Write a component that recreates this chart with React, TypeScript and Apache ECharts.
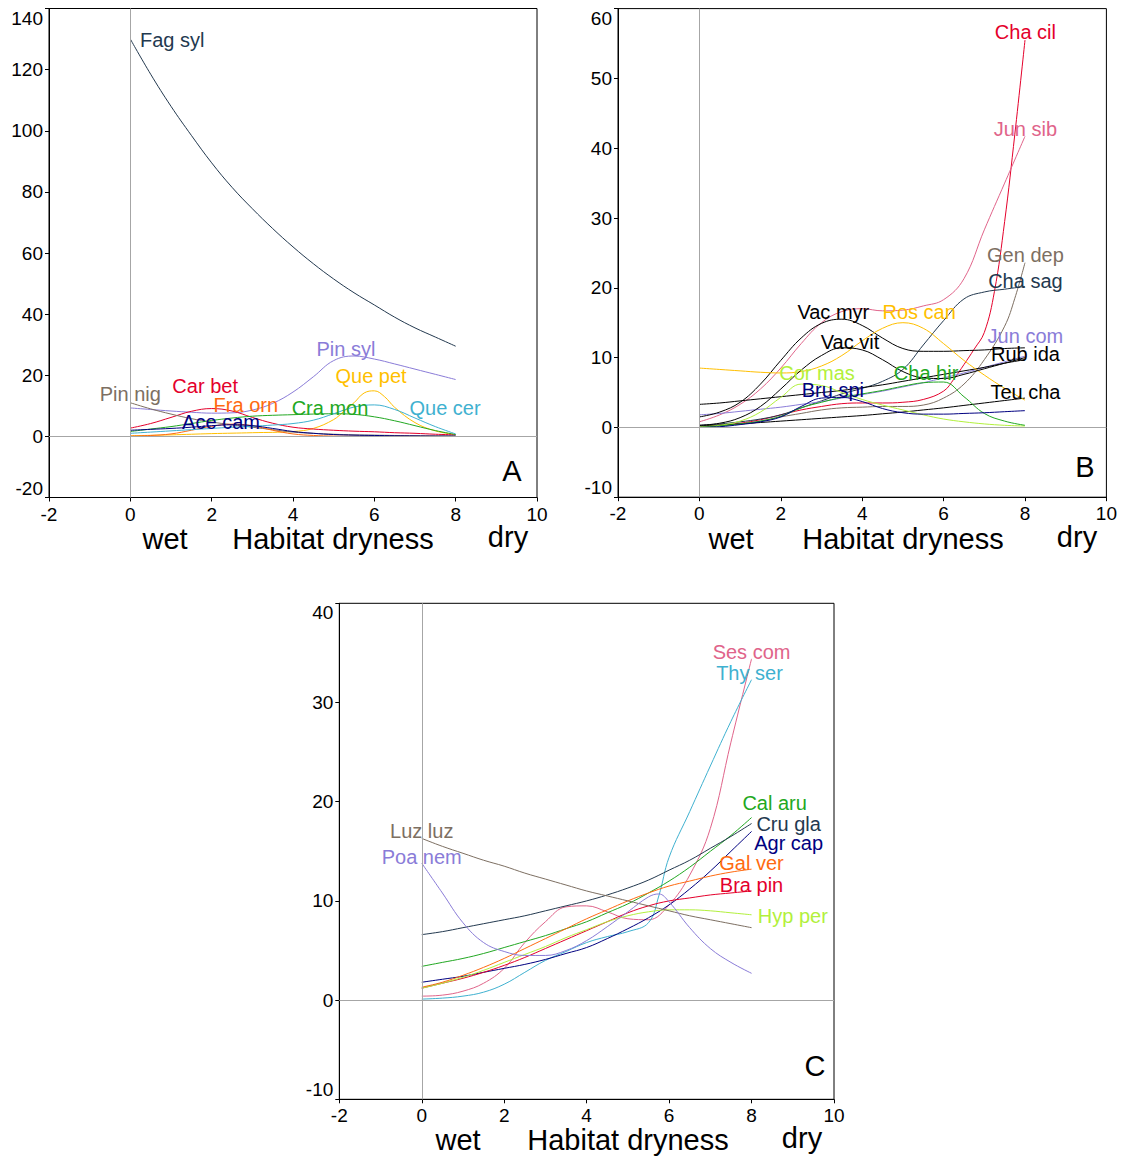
import React, { useEffect, useRef } from "react";
import * as echarts from "echarts";

const FONT = '"Liberation Sans", Arial, Helvetica, sans-serif';

// ---------- shared x grid ----------
const xs = [0, 0.5, 1, 1.5, 2, 2.5, 3, 3.5, 4, 4.5, 5, 5.5, 6, 6.5, 7, 7.5, 8];

// ---------- Panel A ----------
const fagSyl = [130, 118.5, 108, 98.5, 89.5, 81.5, 74.5, 68, 62, 56.5, 51.5, 47, 43, 39, 35.5, 32.5, 29.5];
const pinSyl = [9.3, 8.8, 8.3, 7.9, 7.6, 7.7, 8.6, 10.8, 14.5, 19.5, 24.8, 26.3, 25.3, 23.7, 22, 20.3, 18.6];
const quePetX = [0, 1, 2, 3, 4, 4.5, 5, 5.25, 5.5, 5.75, 6, 6.25, 6.5, 7, 7.5, 8];
const quePet = [0.2, 0.5, 0.9, 1.2, 1.6, 2.6, 5.5, 8.2, 11, 14.2, 14.9, 13, 9.5, 4.5, 1.8, 0.6];
const queCer = [1.0, 1.4, 1.8, 2.2, 2.6, 3.0, 3.3, 3.7, 4.2, 5.3, 7.4, 9.6, 10.3, 8.8, 6.0, 3.2, 0.8];
const craMon = [1.6, 2.4, 3.2, 4.2, 5.2, 6.0, 6.6, 6.9, 7.1, 7.3, 7.4, 7.2, 6.4, 5.1, 3.5, 1.9, 0.6];
const carBet = [2.7, 4.2, 6.2, 8.2, 9.1, 8.3, 6.2, 4.3, 3.0, 2.4, 2.0, 1.7, 1.5, 1.2, 1.0, 0.7, 0.5];
const fraOrn = [0.1, 0.3, 0.8, 2.0, 3.3, 4.0, 3.5, 2.0, 0.8, 0.3, 0.1, 0.05, 0.02, 0.01, 0, 0, 0];
const aceCam = [2.0, 2.3, 2.6, 3.0, 3.5, 3.8, 3.5, 2.6, 1.6, 1.0, 0.6, 0.4, 0.3, 0.2, 0.15, 0.1, 0.1];
const pinNig = [11.0, 9.0, 7.3, 5.8, 4.7, 3.8, 3.0, 2.2, 1.4, 1.0, 0.7, 0.5, 0.4, 0.3, 0.2, 0.15, 0.1];

// ---------- Panel B ----------
const chaCilX = [0, 0.5, 1, 1.5, 2, 2.5, 3, 3.5, 4, 4.5, 5, 5.5, 6, 6.25, 6.5, 6.75, 7, 7.25, 7.5, 7.75, 8];
const chaCil = [0.1, 0.3, 0.6, 1.1, 1.8, 2.5, 3.0, 3.4, 3.5, 3.5, 3.6, 4.0, 5.2, 6.9, 9.0, 11.2, 13.6, 19.5, 29.5, 42, 55.5];
const junSib = [0.8, 1.8, 3.3, 5.5, 8.5, 12.0, 15.0, 16.6, 17.0, 16.7, 16.8, 17.4, 18.3, 21.3, 28.3, 35, 41.7];
const genDepX = [0, 0.5, 1, 1.5, 2, 2.5, 3, 3.5, 4, 4.5, 5, 5.5, 6, 6.5, 7, 7.5, 7.75, 8];
const genDep = [0.1, 0.3, 0.5, 0.9, 1.5, 2.0, 2.5, 2.8, 2.9, 3.0, 3.0, 3.2, 4.2, 6.2, 9.7, 14.5, 18.5, 23.6];
const chaSag = [0.3, 0.5, 0.8, 1.2, 1.8, 2.8, 3.8, 4.8, 5.6, 6.6, 8.3, 11.8, 15.3, 18.4, 19.4, 19.8, 20.2];
const vacMyr = [1.5, 2.2, 3.6, 6.2, 9.6, 12.8, 14.9, 15.5, 14.6, 12.8, 11.3, 10.9, 10.9, 11.0, 11.1, 11.3, 11.4];
const vacVit = [0.3, 0.6, 1.4, 3.0, 5.5, 8.2, 10.3, 11.4, 11.1, 9.7, 8.0, 7.1, 7.0, 7.6, 8.4, 9.2, 10.0];
const rubIda = [3.3, 3.5, 3.8, 4.1, 4.4, 4.7, 5.0, 5.3, 5.7, 6.1, 6.6, 7.1, 7.6, 8.1, 8.6, 9.2, 9.7];
const teuCha = [0.2, 0.35, 0.5, 0.7, 0.9, 1.1, 1.3, 1.5, 1.7, 1.95, 2.2, 2.5, 2.8, 3.15, 3.5, 3.85, 4.2];
const rosCan = [8.5, 8.3, 8.1, 7.9, 7.8, 8.0, 8.8, 10.3, 12.4, 14.2, 15.0, 14.2, 12.0, 9.6, 7.5, 5.6, 3.9];
const corMas = [0.1, 0.3, 0.9, 2.2, 4.3, 6.2, 6.0, 5.0, 4.0, 3.2, 2.5, 1.8, 1.2, 0.8, 0.5, 0.3, 0.2];
const bruSpi = [0, 0.1, 0.4, 0.8, 1.5, 3.0, 4.2, 4.3, 3.7, 2.7, 2.1, 1.9, 1.9, 2.0, 2.1, 2.25, 2.4];
const chaHir = [0, 0.2, 0.5, 0.9, 1.6, 2.8, 3.6, 4.3, 4.8, 5.3, 5.9, 6.4, 6.5, 4.4, 2.0, 0.9, 0.3];
const junCom = [1.8, 2.0, 2.3, 2.6, 2.9, 3.3, 3.7, 4.2, 4.7, 5.2, 5.8, 6.4, 7.1, 7.8, 8.6, 9.4, 10.2];

// ---------- Panel C ----------
const luzLuz = [16.3, 15.5, 14.8, 14.1, 13.5, 12.8, 12.2, 11.6, 11.0, 10.5, 10.0, 9.5, 9.0, 8.5, 8.1, 7.7, 7.3];
const poaNemX = [0, 0.5, 1, 1.5, 2, 2.5, 3, 3.5, 4, 4.5, 5, 5.5, 5.75, 6, 6.5, 7, 7.5, 8];
const poaNem = [13.8, 10.8, 7.8, 5.8, 4.9, 4.5, 4.5, 5.0, 6.0, 7.4, 8.9, 10.4, 10.7, 9.9, 7.3, 5.2, 3.8, 2.7];
const cruGla = [6.6, 6.9, 7.3, 7.7, 8.1, 8.5, 9.0, 9.5, 10.0, 10.6, 11.3, 12.1, 13.1, 14.1, 15.3, 16.5, 17.8];
const calAru = [3.4, 3.8, 4.2, 4.7, 5.3, 5.9, 6.5, 7.2, 7.9, 8.8, 9.7, 10.8, 12.0, 13.4, 15.0, 16.6, 18.4];
const agrCap = [1.8, 2.1, 2.4, 2.8, 3.2, 3.6, 4.1, 4.7, 5.3, 6.2, 7.2, 8.3, 9.6, 11.2, 13.0, 15.0, 17.0];
const galVer = [1.3, 1.8, 2.5, 3.3, 4.2, 5.2, 6.2, 7.2, 8.2, 9.1, 10.0, 10.8, 11.5, 12.0, 12.5, 12.9, 13.2];
const braPin = [1.2, 1.7, 2.2, 2.8, 3.5, 4.3, 5.2, 6.1, 7.0, 7.9, 8.8, 9.5, 10.0, 10.3, 10.6, 10.8, 11.0];
const hypPer = [1.2, 1.7, 2.3, 3.0, 3.8, 4.6, 5.4, 6.3, 7.1, 7.9, 8.5, 8.9, 9.1, 9.1, 9.0, 8.8, 8.6];
const sesCom = [0.4, 0.5, 0.9, 1.7, 3.2, 5.8, 7.9, 9.4, 9.5, 8.9, 8.2, 8.1, 9.6, 12.6, 17.3, 26, 34.4];
const thySerX = [0, 0.5, 1, 1.5, 2, 2.5, 3, 3.5, 4, 4.5, 5, 5.5, 5.75, 6, 6.5, 7, 7.5, 8];
const thySer = [0.1, 0.2, 0.4, 0.8, 1.6, 2.8, 4.0, 4.9, 5.8, 6.4, 6.9, 7.8, 10.5, 14.4, 19.0, 23.6, 28.1, 32.3];

// ---------- axis ticks ----------
const xTicks = { min: -2, max: 10, interval: 2 };
const yTicksA = { min: -20, max: 140, interval: 20 };
const yTicksB = { min: -10, max: 60, interval: 10 };
const yTicksC = { min: -10, max: 40, interval: 10 };

// ---------- colours ----------
const C = {
  slate: "#23394f",
  purple: "#8a7cd8",
  amber: "#ffbf00",
  red: "#e4002b",
  taupe: "#7d6f62",
  orange: "#ff6a10",
  green: "#22a822",
  teal: "#3fb1d0",
  navy: "#000080",
  pink: "#e0648a",
  lime: "#b2f03c",
  black: "#000000",
};

type Sp = { name: string; color: string; x: number[]; y: number[]; lab: [number, number] };

const speciesA: Sp[] = [
  { name: "Fag syl", color: C.slate, x: xs, y: fagSyl, lab: [1.03, 129.8] },
  { name: "Pin syl", color: C.purple, x: xs, y: pinSyl, lab: [5.3, 28.6] },
  { name: "Que pet", color: C.amber, x: quePetX, y: quePet, lab: [5.92, 19.8] },
  { name: "Car bet", color: C.red, x: xs, y: carBet, lab: [1.84, 16.5] },
  { name: "Pin nig", color: C.taupe, x: xs, y: pinNig, lab: [0, 13.9] },
  { name: "Fra orn", color: C.orange, x: xs, y: fraOrn, lab: [2.84, 10.3] },
  { name: "Cra mon", color: C.green, x: xs, y: craMon, lab: [4.91, 9.3] },
  { name: "Que cer", color: C.teal, x: xs, y: queCer, lab: [7.74, 9.3] },
  { name: "Ace cam", color: C.navy, x: xs, y: aceCam, lab: [2.23, 4.7] },
];

const speciesB: Sp[] = [
  { name: "Cha cil", color: C.red, x: chaCilX, y: chaCil, lab: [8.01, 56.6] },
  { name: "Jun sib", color: C.pink, x: xs, y: junSib, lab: [8.01, 42.8] },
  { name: "Gen dep", color: C.taupe, x: genDepX, y: genDep, lab: [8.01, 24.7] },
  { name: "Cha sag", color: C.slate, x: xs, y: chaSag, lab: [8.01, 21.0] },
  { name: "Jun com", color: C.purple, x: xs, y: junCom, lab: [8.01, 13.1] },
  { name: "Rub ida", color: C.black, x: xs, y: rubIda, lab: [8.01, 10.5] },
  { name: "Teu cha", color: C.black, x: xs, y: teuCha, lab: [8.01, 5.1] },
  { name: "Vac myr", color: C.black, x: xs, y: vacMyr, lab: [3.29, 16.5] },
  { name: "Ros can", color: C.amber, x: xs, y: rosCan, lab: [5.4, 16.5] },
  { name: "Vac vit", color: C.black, x: xs, y: vacVit, lab: [3.7, 12.2] },
  { name: "Cor mas", color: C.lime, x: xs, y: corMas, lab: [2.89, 7.8] },
  { name: "Cha hir", color: C.green, x: xs, y: chaHir, lab: [5.57, 7.8] },
  { name: "Bru spi", color: C.navy, x: xs, y: bruSpi, lab: [3.28, 5.3] },
];

const speciesC: Sp[] = [
  { name: "Ses com", color: C.pink, x: xs, y: sesCom, lab: [8.0, 35.1] },
  { name: "Thy ser", color: C.teal, x: thySerX, y: thySer, lab: [7.95, 33.0] },
  { name: "Cal aru", color: C.green, x: xs, y: calAru, lab: [8.56, 19.9] },
  { name: "Cru gla", color: C.slate, x: xs, y: cruGla, lab: [8.9, 17.8] },
  { name: "Agr cap", color: C.navy, x: xs, y: agrCap, lab: [8.9, 15.8] },
  { name: "Gal ver", color: C.orange, x: xs, y: galVer, lab: [8.0, 13.8] },
  { name: "Bra pin", color: C.red, x: xs, y: braPin, lab: [8.0, 11.6] },
  { name: "Hyp per", color: C.lime, x: xs, y: hypPer, lab: [9.0, 8.5] },
  { name: "Luz luz", color: C.taupe, x: xs, y: luzLuz, lab: [0, 17.0] },
  { name: "Poa nem", color: C.purple, x: poaNemX, y: poaNem, lab: [0, 14.4] },
];

function refSeries(idx: number) {
  return {
    type: "line",
    xAxisIndex: idx,
    yAxisIndex: idx,
    data: [],
    silent: true,
    z: 1,
    markLine: {
      silent: true,
      symbol: ["none", "none"],
      label: { show: false },
      lineStyle: { color: "#a6a6a6", width: 1, type: "solid" },
      data: [{ xAxis: 0 }, { yAxis: 0 }],
    },
  };
}

function spSeries(sp: Sp, idx: number) {
  return {
    type: "line",
    name: sp.name,
    xAxisIndex: idx,
    yAxisIndex: idx,
    data: sp.x.map((x, i) => [x, sp.y[i]]),
    smooth: 0.4,
    showSymbol: false,
    symbol: "none",
    silent: true,
    z: 2,
    lineStyle: { color: sp.color, width: 1 },
    markPoint: {
      silent: true,
      symbol: "circle",
      symbolSize: 0,
      itemStyle: { color: "rgba(0,0,0,0)" },
      label: {
        show: true,
        position: "inside",
        formatter: sp.name,
        color: sp.color,
        fontSize: 20,
        fontFamily: FONT,
      },
      data: [{ coord: sp.lab, value: 0 }],
    },
  };
}

function xAxisCfg(idx: number) {
  return {
    type: "value",
    gridIndex: idx,
    ...xTicks,
    axisLine: { show: true, onZero: false, lineStyle: { color: "#000", width: 1 } },
    axisTick: { show: true, length: 4, lineStyle: { color: "#000", width: 1 } },
    axisLabel: { color: "#000", fontSize: 19, fontFamily: FONT, margin: 7, showMinLabel: true, showMaxLabel: true },
    splitLine: { show: false },
  };
}

function yAxisCfg(idx: number, t: { min: number; max: number; interval: number }) {
  return {
    type: "value",
    gridIndex: idx,
    ...t,
    axisLine: { show: true, onZero: false, lineStyle: { color: "#000", width: 1 } },
    axisTick: { show: true, length: 4, lineStyle: { color: "#000", width: 1 } },
    axisLabel: {
      color: "#000",
      fontSize: 19,
      fontFamily: FONT,
      margin: 6,
      showMinLabel: true,
      showMaxLabel: true,
      verticalAlignMaxLabel: "top",
      verticalAlignMinLabel: "bottom",
    },
    splitLine: { show: false },
  };
}

function txt(text: string, x: number, y: number, size: number) {
  return {
    type: "text",
    x,
    y,
    silent: true,
    style: {
      text,
      fill: "#000",
      font: `${size}px ${FONT}`,
      textAlign: "center",
      textVerticalAlign: "middle",
    },
  };
}

export default function App() {
  const ref = useRef<HTMLDivElement>(null);

  useEffect(() => {
    if (!ref.current) return;
    const chart = echarts.init(ref.current, undefined, { renderer: "svg" });
    const gridStyle = { show: true, borderColor: "#000", borderWidth: 1, backgroundColor: "transparent", containLabel: false };
    const option: any = {
      animation: false,
      backgroundColor: "#fff",
      grid: [
        { ...gridStyle, left: 49, top: 8.5, width: 488, height: 489 },
        { ...gridStyle, left: 618, top: 8.6, width: 488.4, height: 488.6 },
        { ...gridStyle, left: 339.3, top: 603.3, width: 494.7, height: 496 },
      ],
      xAxis: [xAxisCfg(0), xAxisCfg(1), xAxisCfg(2)],
      yAxis: [yAxisCfg(0, yTicksA), yAxisCfg(1, yTicksB), yAxisCfg(2, yTicksC)],
      series: [
        refSeries(0),
        refSeries(1),
        refSeries(2),
        ...speciesA.map((s) => spSeries(s, 0)),
        ...speciesB.map((s) => spSeries(s, 1)),
        ...speciesC.map((s) => spSeries(s, 2)),
      ],
      graphic: [
        txt("wet", 165, 539, 29),
        txt("Habitat dryness", 333, 539, 29),
        txt("dry", 508, 537, 29),
        txt("A", 512, 471, 29),
        txt("wet", 731, 539, 29),
        txt("Habitat dryness", 903, 539, 29),
        txt("dry", 1077, 537, 29),
        txt("B", 1085, 467, 29),
        txt("wet", 458, 1140, 29),
        txt("Habitat dryness", 628, 1140, 29),
        txt("dry", 802, 1138, 29),
        txt("C", 815, 1066, 29),
      ],
    };
    chart.setOption(option);
    return () => chart.dispose();
  }, []);

  return (
    <div
      ref={ref}
      style={{ position: "absolute", left: 0, top: 0, width: 1123, height: 1156 }}
    />
  );
}
